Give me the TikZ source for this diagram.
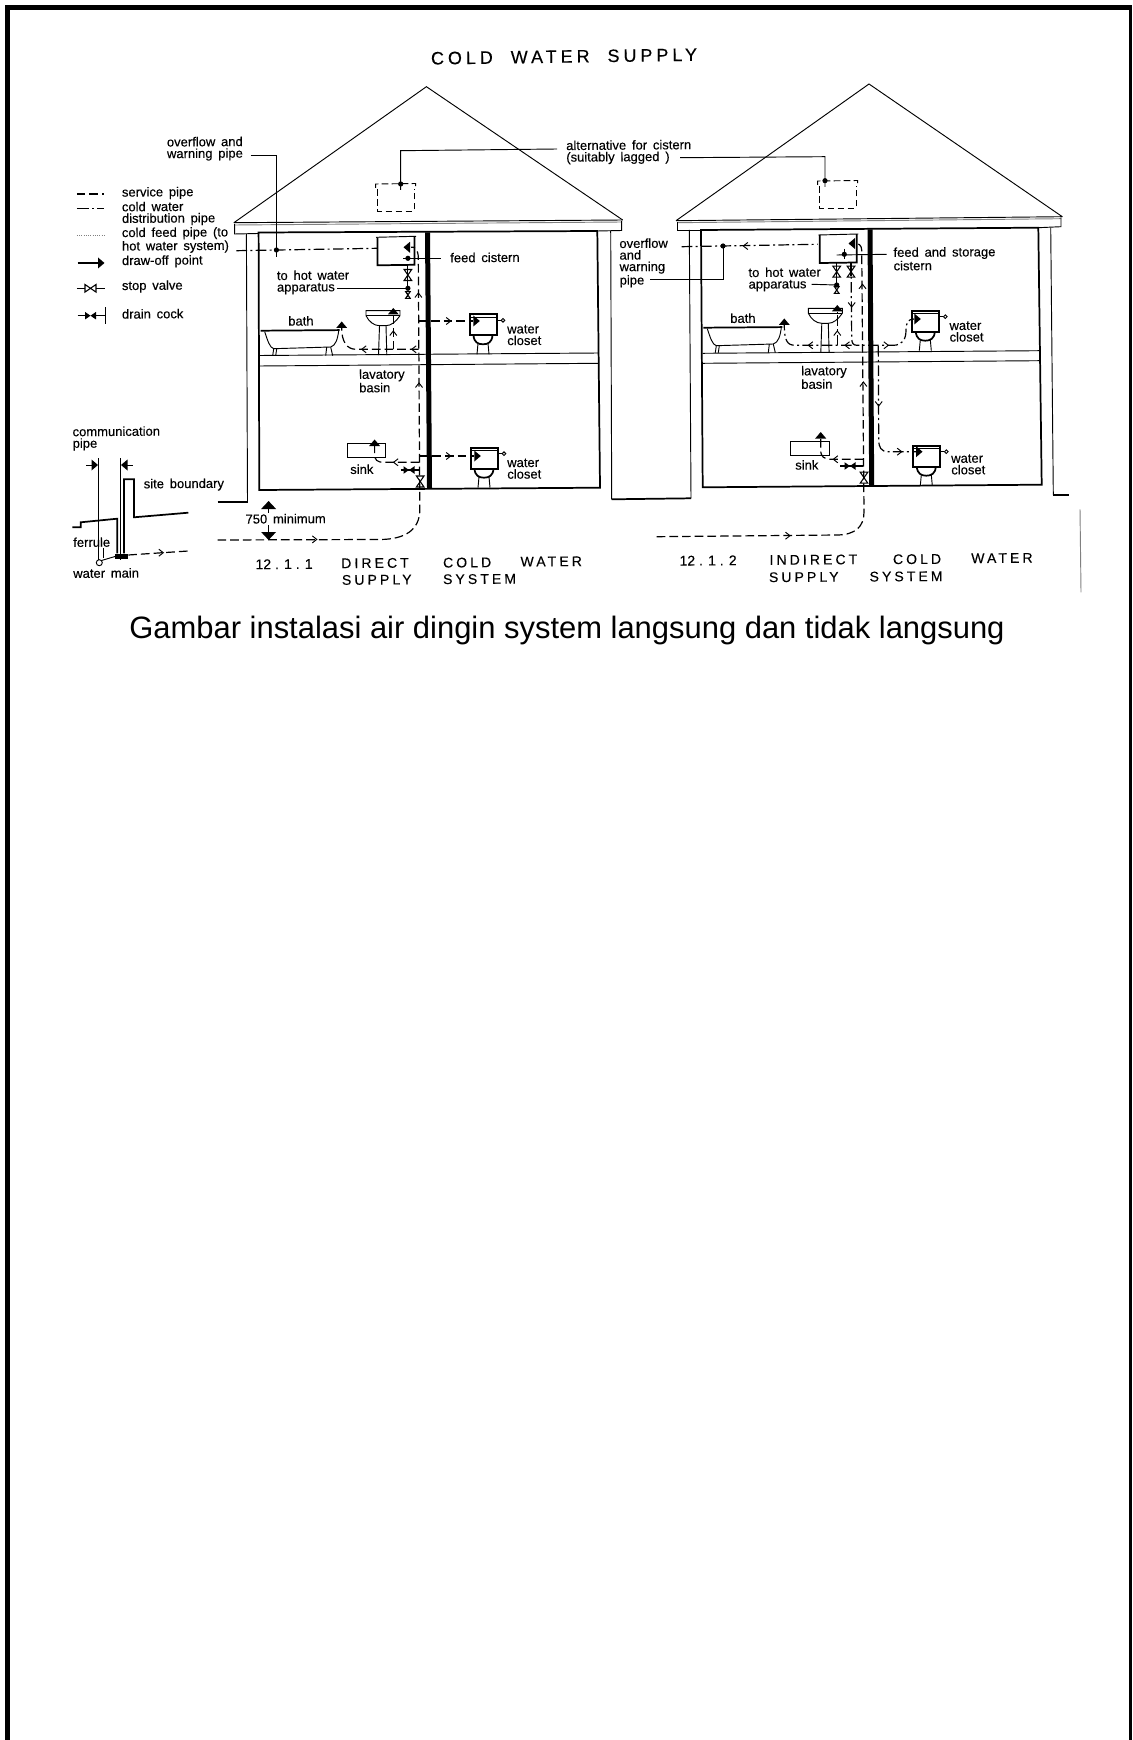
\documentclass[tikz,border=0pt]{standalone}
\usepackage{fontspec}
\usepackage{tikz}
\setmainfont{Liberation Sans}
\newfontfamily\platefont[WordSpace=1.6,FakeBold=0.25]{Liberation Sans}
\newfontfamily\headfont[LetterSpace=22,WordSpace=2,FakeBold=0.2]{Liberation Sans}
\newfontfamily\numfont[FakeBold=0.2]{Liberation Sans}

\tikzset{
  wall/.style={line width=1.3pt},
  fine/.style={line width=0.7pt},
  partywall/.style={line width=3.75pt},
  pipeservice/.style={line width=0.9pt,dash pattern=on 6.5pt off 3pt},
  pipedist/.style={line width=0.9pt,dash pattern=on 8pt off 2.5pt on 1.5pt off 2.5pt},
  leader/.style={line width=0.7pt},
  lbl/.style={anchor=west,inner sep=0.75pt,align=left,rotate=0.4,font=\fontsize{9.75}{8.7}\selectfont\platefont},
  headlbl/.style={anchor=west,inner sep=0.75pt,rotate=0.4,font=\fontsize{10.5}{12}\selectfont\headfont},
  numlbl/.style={anchor=west,inner sep=0.75pt,rotate=0.4,font=\fontsize{10.5}{12}\selectfont\numfont},
  every pic/.style={yscale=-1},
  pics/flowtip/.style={code={\draw[line width=0.7pt] (-4.5,-3.5) -- (0,0) -- (-4.5,3.5);}},
  pics/drawoff/.style={code={\fill (0,-5.5) -- (6.5,0) -- (0,5.5) -- cycle;}},
  pics/bigdrawoff/.style={code={\fill (0,-7.5) -- (8,0) -- (0,7.5) -- cycle;}},
  pics/junction/.style={code={\fill (0,0) circle [radius=2.6];}},
  pics/stopvalve/.style={code={\draw[line width=0.8pt] (-5.5,-3.8) -- (5.5,3.8) -- (5.5,-3.8) -- (-5.5,3.8) -- cycle;}},
  pics/draincock/.style={code={\fill (-5.5,-3.8) -- (5.5,3.8) -- (5.5,-3.8) -- (-5.5,3.8) -- cycle;}},
  pics/bath/.style={code={
    \draw[wall] (0,0) -- (79,-0.6);
    \draw[fine] (4,1) .. controls (7,10) and (9,17) .. (13,18) -- (70,16.3) .. controls (75,15) and (77,8) .. (78,0);
    \draw[fine] (13,18) -- (12,25) (16,18) -- (15,25) (66,16.5) -- (65,25) (70,16.5) -- (72,25);
  }},
  pics/basin/.style={code={
    \draw[fine] (0,0) -- (34,0) -- (34,5) .. controls (30,11) and (25,15) .. (20,15) -- (13.5,15) .. controls (8,15) and (3,11) .. (0,5) -- cycle;
    \draw[fine] (0,5) -- (34,5);
    \draw[fine] (13.5,15) -- (12.5,44.5) (20,15) -- (20.8,44.5);
  }},
  pics/closet/.style={code={
    \draw[wall] (0,0) -- (27,0) -- (27,21) -- (0,21) -- cycle;
    \draw[fine] (0,3) -- (27,3);
    \draw[fine] (27,6) -- (31,6);
    \draw[fine] (33,6) circle [radius=1.8];
    \draw[wall] (3.5,21) .. controls (4,28) and (8,30) .. (13,30) .. controls (18,30) and (22,28) .. (22.5,21);
    \draw[fine] (8,29) -- (7,40) (18,29) -- (19,40);
  }},
  pics/cistern/.style={code={
    \draw[fine] (0,0) -- (40,-1);
    \draw[wall] (1.5,0) -- (1.5,28) -- (38.5,27.5) -- (38.5,-0.8);
  }},
  pics/lagged/.style={code={
    \draw[fine,dash pattern=on 5pt off 2.5pt] (0,4) -- (0,0) -- (40,-0.5) -- (40,4);
    \draw[fine,dash pattern=on 5pt off 2.5pt] (2,5) -- (2,27) -- (38.5,27) -- (38.5,5);
  }},
}

\begin{document}
\begin{tikzpicture}[x=0.75pt,y=0.75pt,yscale=-1,xscale=1]
    \useasboundingbox (0,0) rectangle (1132,1740);

    %Shape: page frame
    \fill (5,5) rectangle (10,1740);
    \fill (5,5) rectangle (1132,10);
    \fill (1129.4,5) rectangle (1132,1740);

    %Shape: first house
    \draw [fine] (233.9,222.7) -- (426.4,86.7) -- (622.7,220);
    \draw [fine] (233.9,222.7) -- (622.7,220);
    \draw [fine,gray] (234.6,225) -- (621.7,222);
    \draw [fine] (234.6,224) -- (234.6,234) -- (257.9,233.5);
    \draw [fine] (621.7,221) -- (621.7,230.5) -- (597.3,231);
    \draw [wall] (258.6,232.5) -- (597.3,231) -- (600,487.7) -- (259.3,490) -- cycle;
    \draw [fine] (246.4,234) -- (247.5,502.3);
    \draw [wall] (217.5,502.3) -- (247.5,502.3);
    \draw [fine] (610.7,231) -- (611.7,499.3);
    \draw [wall] (611.7,499.3) -- (691,498.3);
    \draw [partywall] (427.5,232.3) -- (429.5,488.3);
    \draw [fine] (259.5,355.5) -- (598.5,353);
    \draw [fine] (259.5,366) -- (598.5,363.3);

    %Shape: second house
    \draw [fine] (676,220.7) -- (869,84) -- (1062.3,216.7);
    \draw [fine] (676,220.7) -- (1062.3,216.7);
    \draw [fine,gray] (677.3,222.7) -- (1061,218.7);
    \draw [fine] (677.3,222) -- (677.3,230) -- (701,230);
    \draw [fine] (1061,217.5) -- (1061,226.7) -- (1038.3,227.7);
    \draw [wall] (701,230) -- (1038.3,227.7) -- (1041.7,484.7) -- (702.7,487.3) -- cycle;
    \draw [fine] (689.3,230) -- (691,498.3);
    \draw [fine] (1050.7,227.7) -- (1053.3,495);
    \draw [wall] (1053.3,495) -- (1069,495);
    \draw [fine,gray] (1080,509.3) -- (1081,592.3);
    \draw [partywall] (870,229.3) -- (871.7,486.7);
    \draw [fine] (702.7,353.3) -- (1040,350.7);
    \draw [fine] (702.7,363.3) -- (1040,360.7);

    %Shape: fittings, first house
    \pic at (376,237.3) {cistern};
    \pic at (375.7,184) {lagged};
    \pic at (260.7,330.7) {bath};
    \pic at (366,310.7) {basin};
    \pic at (470,314.3) {closet};
    \pic at (471,447.7) {closet};
    \draw [fine] (347,443.3) rectangle (385.7,457.3);

    %Shape: fittings, second house
    \pic at (818.3,235) {cistern};
    \pic at (817.7,181) {lagged};
    \pic at (703.3,327.7) {bath};
    \pic at (808.3,308.3) {basin};
    \pic at (912.3,310.7) {closet};
    \pic at (913.3,445.7) {closet};
    \draw [fine] (790,441) rectangle (829.3,455);

    %Curve Lines: pipes, first house
    \draw [pipeservice] (217.5,540) -- (380,539.5) .. controls (405,539.3) and (419.6,530) .. (419.8,510) -- (418.3,258) .. controls (418.3,249) and (414,246) .. (411,247.3);
    \draw [pipeservice] (418.3,321) -- (473,321);
    \draw [pipeservice] (418.5,349.3) -- (356,349.3) .. controls (347,349.3) and (341.7,342) .. (341.7,328);
    \draw [pipeservice] (393.3,349.3) -- (393.3,315);
    \draw [pipeservice] (419.3,462.3) -- (384,462.3) .. controls (377,462.3) and (374.6,460) .. (374.6,454) -- (374.6,444);
    \draw [pipeservice] (419.5,456) -- (474,456);
    \draw [line width=0.8pt] (400.7,470) -- (418.6,470);
    \draw [pipedist] (236.4,250.7) -- (377.5,248.3);
    \draw [line width=0.8pt] (407.9,265) -- (407.9,288.3);
    \draw [line width=0.8pt,densely dotted] (407.9,288.3) -- (407.9,300);

    %Curve Lines: pipes, second house
    \draw [pipeservice] (656.7,536.7) -- (838,535) .. controls (855,534.5) and (864,527) .. (864,512) -- (861.7,250) .. controls (861.7,245) and (858,243) .. (855,243.5);
    \draw [pipedist] (681.7,246.7) -- (817.7,244.3);
    \draw [pipedist] (851,262.7) -- (851.7,338) .. controls (851.7,343) and (853,345.3) .. (857,345.3) -- (893,345.3) .. controls (902,345.3) and (906,340) .. (906,330) .. controls (906,323) and (908,319) .. (914,319);
    \draw [pipedist] (851.7,345.3) -- (795,345.3) .. controls (787,345.3) and (784.3,340) .. (784.3,325);
    \draw [pipedist] (837.3,345.3) -- (837.3,311.7);
    \draw [pipedist] (878.3,346) -- (878.7,440) .. controls (878.7,447) and (881,451.7) .. (888,451.7) -- (916,451.7);
    \draw [pipeservice] (863.3,459.3) -- (832,459.3) .. controls (824,459.3) and (820.7,457) .. (820.7,450) -- (820.7,438.3);
    \draw [line width=0.8pt] (840,466) -- (863,466);
    \draw [line width=0.8pt] (836.7,262.7) -- (836.7,285);
    \draw [line width=0.8pt] (851,262.7) -- (851,276);

    %Shape: ground and service entry
    \draw [wall] (72.3,527.3) -- (80.7,527.3) -- (80.7,522.3) -- (117.3,518.7) -- (117.3,553.3);
    \draw [wall] (124,553.3) -- (124,479.3) -- (134,479.3) -- (134,517.3) -- (188.3,512.7);
    \draw [fine] (120.7,458) -- (120.7,560);
    \draw [fine] (98.3,458) -- (98.3,560);
    \fill (115,553.5) rectangle (128,559);
    \draw [fine] (99.3,562.7) circle [radius=3];
    \draw [fine] (103.3,548) -- (103.3,558);
    \draw [fine] (101.5,560.5) -- (115,556.5);
    \draw [pipeservice] (128.3,555) -- (188.3,551);

    %Shape: dimension arrows
    \draw [fine] (86.4,465) -- (92,465);
    \pic at (91.5,465) {drawoff};
    \draw [fine] (132.9,465) -- (127,465);
    \pic [rotate=180] at (127.5,465) {drawoff};
    \draw [fine] (268.6,509) -- (268.6,513);
    \pic [rotate=90] at (268.6,509) {bigdrawoff};
    \draw [fine] (268.6,525) -- (268.6,532);
    \pic [rotate=270] at (268.6,532) {bigdrawoff};

    %Shape: legend
    \draw [line width=0.9pt,dash pattern=on 6.5pt off 3pt] (76.8,194) -- (104.3,194);
    \draw [line width=0.9pt,dash pattern=on 9pt off 2.5pt on 1.2pt off 2.5pt] (76.8,208.3) -- (104.3,208.3);
    \draw [line width=0.7pt,gray,densely dotted] (76.8,235.7) -- (105,235.7);
    \draw [line width=0.9pt] (77.5,263) -- (98,263);
    \pic at (98,263) {drawoff};
    \draw [line width=0.8pt] (76.8,288.3) -- (84.6,288.3) (96.4,288.3) -- (105,288.3);
    \pic at (90.5,288.3) {stopvalve};
    \draw [line width=0.8pt] (77.5,315.7) -- (84.6,315.7) (96.4,315.7) -- (105.4,315.7);
    \draw [line width=0.8pt] (105.4,307.3) -- (105.4,324);
    \pic at (90.5,315.7) {draincock};

    %Shape: leaders
    \draw [leader] (250.7,155) -- (276.4,155) -- (276.4,257);
    \pic at (276.4,250) {junction};
    \draw [leader] (557,149) -- (400.7,150.7) -- (400.7,190);
    \pic at (400.7,184) {junction};
    \draw [leader] (680,157.7) -- (825,156.7) -- (825,187);
    \pic at (825,180.7) {junction};
    \draw [leader] (440.7,258.3) -- (403,258.3);
    \pic at (407.9,258.3) {junction};
    \draw [leader] (337.1,288.3) -- (407.9,288.3);
    \pic at (407.9,288.3) {junction};
    \draw [leader] (650,279.3) -- (723.3,279.3) -- (723.3,246);
    \pic at (723,246) {junction};
    \draw [leader] (886.7,254.3) -- (836.7,255);
    \draw [leader] (844.3,249) -- (844.3,259.5);
    \pic at (844.3,254.3) {junction};
    \draw [leader] (811.7,284.3) -- (836.7,285);
    \pic at (836.7,285) {junction};

    %Shape: valves and draw-offs, first house
    \pic [rotate=180] at (410,247.3) {drawoff};
    \pic [rotate=90] at (407.9,275) {stopvalve};
    \pic [rotate=90,scale=0.6] at (407.9,295) {stopvalve};
    \pic [rotate=90] at (420.2,481.5) {stopvalve};
    \pic at (409,470) {draincock};
    \pic [rotate=90] at (341.7,328) {drawoff};
    \pic [rotate=90] at (393.3,314.5) {drawoff};
    \pic [rotate=90] at (374.6,446) {drawoff};
    \pic at (473.3,321) {drawoff};
    \pic at (474.3,456) {drawoff};

    %Shape: valves and draw-offs, second house
    \pic [rotate=180] at (855,243.5) {drawoff};
    \pic [rotate=90] at (836.7,271.7) {stopvalve};
    \pic [rotate=90] at (851,271.7) {stopvalve};
    \pic [rotate=90,scale=0.6] at (836.7,290) {stopvalve};
    \pic [rotate=90] at (864,477.7) {stopvalve};
    \pic at (850,466) {draincock};
    \pic [rotate=90] at (784.3,325) {drawoff};
    \pic [rotate=90] at (837.3,311.5) {drawoff};
    \pic [rotate=90] at (820.7,438.5) {drawoff};
    \pic at (914.3,319) {drawoff};
    \pic at (916,451.7) {drawoff};

    %Shape: flow arrows
    \foreach \tipx/\tipy/\tipang in {316.8/539.4/0,418.4/293/90,419/383/90,450.7/321/0,361.7/349.3/180,411.7/349.3/180,393.3/331/90,393.6/462.3/180,450.7/456/0,163.3/552.7/0,
        790/535.7/0,862.5/284.3/90,863.4/382/90,743.3/246/180,851.7/307/270,845/345.3/180,808.3/345.3/180,837.3/331/90,888.3/345.3/0,878.7/406/270,901.7/451.7/0,833.3/459.3/180}
      \pic [rotate=\tipang] at (\tipx,\tipy) {flowtip};

    % Text Node
    \draw (564,56.5) node (titlemain) [inner sep=0.75pt,rotate=0.8,font=\fontsize{13.5}{16}\selectfont\headfont] {COLD WATER SUPPLY};
    % Text Node
    \draw (165.7,149) node (lbloverflowa) [lbl] {overflow and\\warning pipe};
    \draw (565,152.5) node (lblalt) [lbl] {alternative for cistern\\(suitably lagged )};
    \draw (120.7,193.3) node (lblservice) [lbl] {service pipe};
    \draw (120.7,213.8) node (lbldist) [lbl] {cold water\\distribution pipe};
    \draw (120.7,240.5) node (lblfeedpipe) [lbl] {cold feed pipe (to\\hot water system)};
    \draw (120.7,261.7) node (lbldrawoff) [lbl] {draw-off point};
    \draw (120.7,286.7) node (lblstop) [lbl] {stop valve};
    \draw (120.7,314) node (lbldrain) [lbl] {drain cock};
    % Text Node
    \draw (449,257.7) node (lblfeeda) [lbl] {feed cistern};
    \draw (275.7,282.5) node (lblhota) [lbl] {to hot water\\apparatus};
    \draw (287,321) node (lblbatha) [lbl] {bath};
    \draw (506,335.2) node (lblwca) [lbl] {water\\closet};
    \draw (357.9,381) node (lbllava) [lbl] {lavatory\\basin};
    \draw (349,469.3) node (lblsinka) [lbl] {sink};
    \draw (506,468.8) node (lblwcb) [lbl] {water\\closet};
    % Text Node
    \draw (71.4,438.7) node (lblcomm) [lbl] {communication\\pipe};
    \draw (142.5,485) node (lblsite) [lbl] {site boundary};
    \draw (72,542.3) node (lblferrule) [lbl] {ferrule};
    \draw (72,573.3) node (lblmain) [lbl] {water main};
    \draw (244.3,519) node (lblmin) [lbl] {750 minimum};
    % Text Node
    \draw (618.3,263) node (lbloverflowb) [lbl] {overflow\\and\\warning\\pipe};
    \draw (892.3,259) node (lblfeedb) [lbl] {feed and storage\\cistern};
    \draw (747.3,279.5) node (lblhotb) [lbl] {to hot water\\apparatus};
    \draw (729,318.3) node (lblbathb) [lbl] {bath};
    \draw (800,377.5) node (lbllavb) [lbl] {lavatory\\basin};
    \draw (948.3,331.7) node (lblwcc) [lbl] {water\\closet};
    \draw (794,465) node (lblsinkb) [lbl] {sink};
    \draw (950,464.5) node (lblwcd) [lbl] {water\\closet};
    % Text Node
    \draw (254.3,564.3) node (numa) [numlbl] {12 . 1 . 1};
    \draw (340,563.3) node (wordaa) [headlbl] {DIRECT};
    \draw (441.8,562.7) node (wordab) [headlbl] {COLD};
    \draw (519.3,561.7) node (wordac) [headlbl] {WATER};
    \draw (340.7,580) node (wordad) [headlbl] {SUPPLY};
    \draw (441.8,579.3) node (wordae) [headlbl] {SYSTEM};
    % Text Node
    \draw (678.3,560.7) node (numb) [numlbl] {12 . 1 . 2};
    \draw (768.3,560) node (wordba) [headlbl] {INDIRECT};
    \draw (891.7,559.3) node (wordbb) [headlbl] {COLD};
    \draw (970,558.3) node (wordbc) [headlbl] {WATER};
    \draw (767.7,577.3) node (wordbd) [headlbl] {SUPPLY};
    \draw (868.3,576.7) node (wordbe) [headlbl] {SYSTEM};
    % Text Node
    \draw (567,630) node (caption) [inner sep=0.75pt,font=\fontsize{23.2}{27}\selectfont] {Gambar instalasi air dingin system langsung dan tidak langsung};

\end{tikzpicture}
\end{document}
